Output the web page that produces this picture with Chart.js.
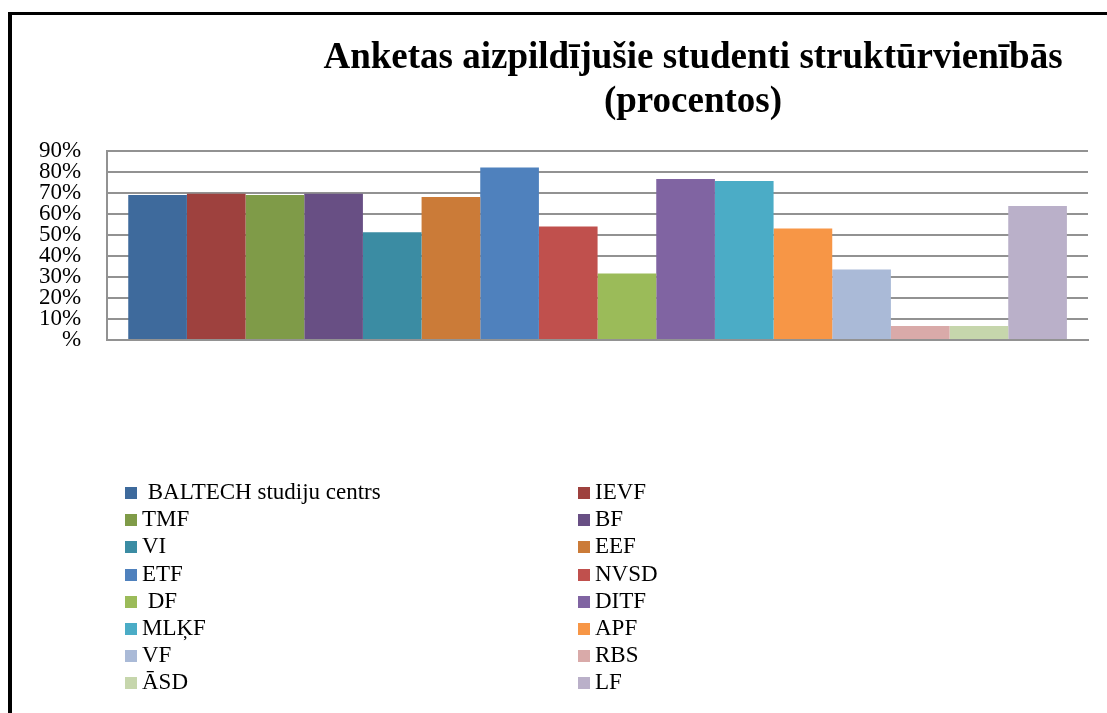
<!DOCTYPE html>
<html>
<head>
<meta charset="utf-8">
<script src="https://cdn.jsdelivr.net/npm/chart.js@4/dist/chart.umd.min.js"></script>
<style>
html,body{margin:0;padding:0;background:#fff;}
#wrap{position:relative;width:1107px;height:713px;overflow:hidden;}
#frame{position:absolute;left:8px;top:12px;right:-10px;bottom:-10px;border-left:4px solid #000;border-top:3px solid #000;pointer-events:none;}
canvas{position:absolute;left:0;top:0;}
</style>
</head>
<body>
<div id="wrap"><canvas id="c" width="1107" height="713"></canvas><div id="frame"></div></div>
<script>
// ---- data ----
const categories = [''];
const seriesNames = [' BALTECH studiju centrs','IEVF','TMF','BF','VI','EEF','ETF','NVSD',' DF','DITF','MLĶF','APF','VF','RBS','ĀSD','LF'];
const seriesValues = [69, 69.6, 69, 69.6, 51.2, 68, 82, 54, 31.6, 76.6, 75.6, 53, 33.5, 6.7, 6.7, 63.7];
const seriesColors = ['#3E6A9C','#9E413E','#7F9B48','#684F84','#3B8CA3','#CB7B38','#4F81BD','#C0504D','#9BBB59','#8064A2','#4BACC6','#F79646','#AABAD7','#D9AAA9','#C6D6AC','#BAB0C9'];
const yTickValues = [0,10,20,30,40,50,60,70,80,90];
const yTickLabels = ['%','10%','20%','30%','40%','50%','60%','70%','80%','90%'];
const titleLines = ['Anketas aizpildījušie studenti struktūrvienībās','(procentos)'];

const SERIF = '"Liberation Serif", "Times New Roman", serif';

const titleShift = {
  id: 'titleShift',
  afterLayout(chart, args, opts) {
    const t = chart.titleBlock;
    if (!t) return;
    const w = t.right - t.left;
    t.left = opts.center - w / 2;
    t.right = opts.center + w / 2;
  }
};

const twoColLegend = {
  id: 'twoColLegend',
  afterDraw(chart, args, opts) {
    const ctx = chart.ctx;
    ctx.save();
    ctx.font = opts.fontSize + 'px ' + SERIF;
    ctx.textBaseline = 'middle';
    ctx.textAlign = 'left';
    chart.data.datasets.forEach((ds, i) => {
      const col = i % 2, row = Math.floor(i / 2);
      const bx = opts.colX[col];
      const cy = opts.y0 + row * opts.dy;
      ctx.fillStyle = ds.backgroundColor;
      ctx.fillRect(bx, Math.round(cy - opts.box / 2), opts.box, opts.box);
      ctx.fillStyle = '#000';
      ctx.fillText(ds.label, bx + opts.gap, cy);
    });
    ctx.restore();
  }
};

const datasets = seriesNames.map((name, i) => ({
  label: name,
  data: [seriesValues[i]],
  backgroundColor: seriesColors[i],
  borderWidth: 0
}));

new Chart(document.getElementById('c'), {
  type: 'bar',
  data: { labels: categories, datasets },
  plugins: [titleShift, twoColLegend],
  options: {
    responsive: false,
    animation: false,
    devicePixelRatio: 1,
    categoryPercentage: 0.957,
    barPercentage: 1,
    layout: { padding: { left: 13, right: 19, top: 0, bottom: 365 } },
    plugins: {
      legend: { display: false },
      tooltip: { enabled: false },
      title: {
        display: true,
        text: titleLines,
        color: '#000',
        font: { family: SERIF, size: 37, weight: 'bold', lineHeight: 1.2 },
        padding: { top: 36, bottom: 26 }
      },
      titleShift: { center: 693 },
      twoColLegend: { colX: [125, 578], y0: 493, dy: 27.2, box: 12, gap: 17, fontSize: 23 }
    },
    scales: {
      x: {
        grid: { display: false },
        border: { display: true, color: '#929292', width: 2 },
        ticks: { display: false }
      },
      y: {
        min: 0,
        max: 90,
        afterBuildTicks: s => { s.ticks = yTickValues.map(v => ({ value: v })); },
        grid: { color: '#929292', lineWidth: 2, drawTicks: false },
        border: { display: true, color: '#929292', width: 2 },
        ticks: {
          autoSkip: false,
          padding: 26,
          color: '#000',
          font: { family: SERIF, size: 23, lineHeight: 1 },
          callback: v => yTickLabels[yTickValues.indexOf(v)]
        }
      }
    }
  }
});
</script>
</body>
</html>
